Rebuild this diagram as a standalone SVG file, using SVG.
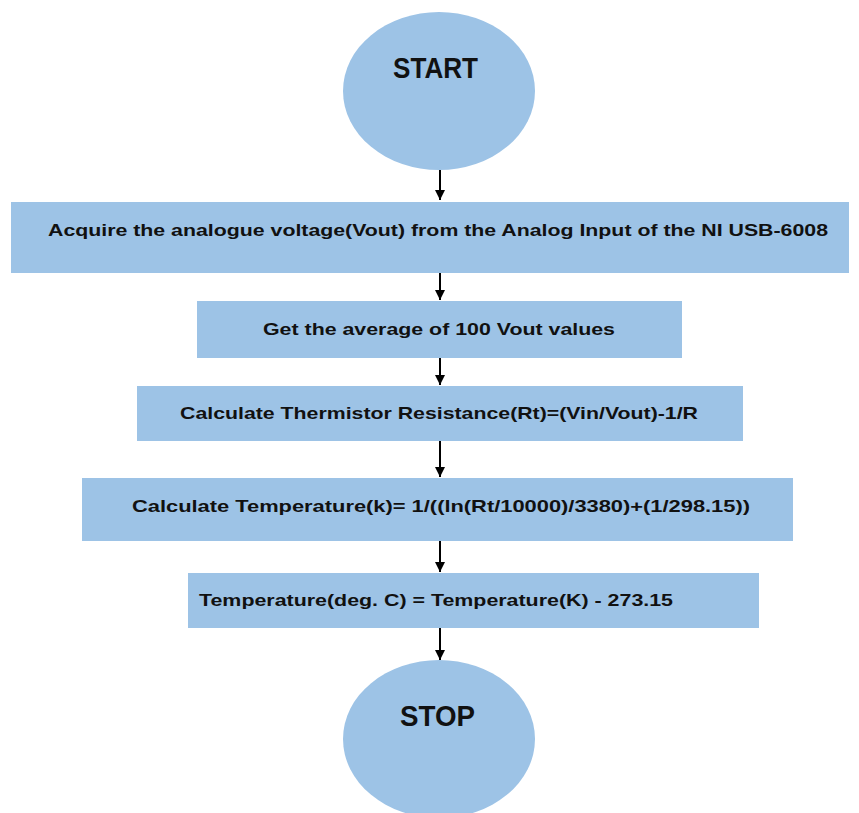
<svg xmlns="http://www.w3.org/2000/svg" width="859" height="813" viewBox="0 0 859 813">
<defs>
<style>
.n{fill:#9dc3e6;stroke:none}
.t{font-family:"Liberation Sans",Arial,sans-serif;font-weight:bold;fill:#111;font-size:17px}
.big{font-size:29px}
.c{stroke:#000;stroke-width:2;fill:none;marker-end:url(#ah)}
</style>
<marker id="ah" viewBox="0 0 10 10" refX="10" refY="5" markerWidth="5" markerHeight="5" markerUnits="strokeWidth" orient="auto"><path d="M0,0 L10,5 L0,10 z" fill="#000"/></marker>
</defs>
<rect width="859" height="813" fill="#fff"/>
<g id="connectors">
<line class="c" x1="440" y1="170" x2="440" y2="200"/>
<line class="c" x1="440" y1="273" x2="440" y2="300"/>
<line class="c" x1="440" y1="358" x2="440" y2="385"/>
<line class="c" x1="440" y1="441" x2="440" y2="477"/>
<line class="c" x1="440" y1="541" x2="440" y2="572"/>
<line class="c" x1="440" y1="628" x2="440" y2="660"/>
</g>
<g id="start">
<ellipse class="n" cx="439" cy="91" rx="96" ry="79"/>
<text class="t big" x="393" y="78" textLength="85" lengthAdjust="spacingAndGlyphs">START</text>
</g>
<g id="acquire">
<rect class="n" x="11" y="202" width="838" height="71"/>
<text class="t" x="48" y="236" textLength="780" lengthAdjust="spacingAndGlyphs">Acquire the analogue voltage(Vout) from the Analog Input of the NI USB-6008</text>
</g>
<g id="average">
<rect class="n" x="197" y="301" width="485" height="57"/>
<text class="t" x="263" y="335" textLength="352" lengthAdjust="spacingAndGlyphs">Get the average of 100 Vout values</text>
</g>
<g id="resistance">
<rect class="n" x="137" y="386" width="606" height="55"/>
<text class="t" x="180" y="419" textLength="518" lengthAdjust="spacingAndGlyphs">Calculate Thermistor Resistance(Rt)=(Vin/Vout)-1/R</text>
</g>
<g id="tempk">
<rect class="n" x="82" y="478" width="711" height="63"/>
<text class="t" x="132" y="512" textLength="618" lengthAdjust="spacingAndGlyphs">Calculate Temperature(k)= 1/((ln(Rt/10000)/3380)+(1/298.15))</text>
</g>
<g id="tempc">
<rect class="n" x="188" y="573" width="571" height="55"/>
<text class="t" x="199" y="606" textLength="474" lengthAdjust="spacingAndGlyphs">Temperature(deg. C) = Temperature(K) - 273.15</text>
</g>
<g id="stop">
<ellipse class="n" cx="439" cy="739" rx="96" ry="79"/>
<text class="t big" x="400" y="726" textLength="75" lengthAdjust="spacingAndGlyphs">STOP</text>
</g>
</svg>
